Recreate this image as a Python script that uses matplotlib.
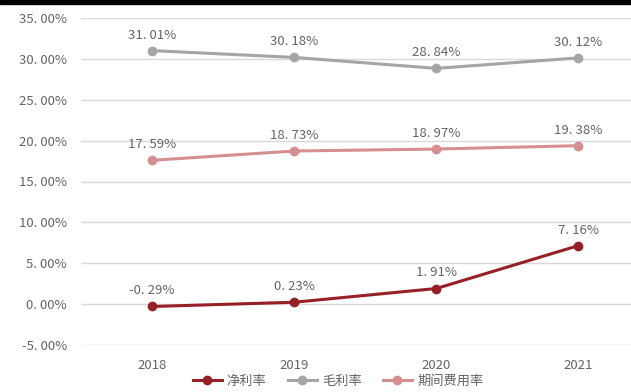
import matplotlib.pyplot as plt
from matplotlib.patches import Rectangle

plt.rcParams['font.family'] = ['Noto Sans CJK SC', 'DejaVu Sans']

years = ['2018', '2019', '2020', '2021']
net_margin = [-0.29, 0.23, 1.91, 7.16]
gross_margin = [31.01, 30.18, 28.84, 30.12]
expense_ratio = [17.59, 18.73, 18.97, 19.38]

series = [
    ('净利率', net_margin, '#962025'),
    ('毛利率', gross_margin, '#a5a5a5'),
    ('期间费用率', expense_ratio, '#d58f90'),
]

fig = plt.figure(figsize=(6.31, 3.92), dpi=100)
ax = fig.add_axes([81 / 631, 1 - 345 / 392, 1 - 81 / 631, 327 / 392])
x = range(len(years))

for name, vals, color in series:
    ax.plot(x, vals, color=color, lw=2.2, marker='o', ms=6, label=name, zorder=3)
    for xi, v in zip(x, vals):
        ax.annotate(f'{v:.2f}%'.replace('.', '. '), (xi, v), xytext=(0, 6.5),
                    textcoords='offset points', ha='center', va='bottom',
                    fontsize=9.5, color='#646464')

ax.set_ylim(-5, 35)
ax.set_xlim(-0.5, 3.37)
ax.set_yticks(range(-5, 40, 5))
ax.set_yticklabels([f'{t:.2f}%'.replace('.', '. ') for t in range(-5, 40, 5)])
ax.set_xticks(list(x))
ax.set_xticklabels(years)
ax.tick_params(length=0, labelsize=9.5, colors='#646464', pad=10)
ax.grid(axis='y', color='#d9d9d9', lw=1)
ax.set_axisbelow(True)
for s in ax.spines.values():
    s.set_visible(False)

fig.legend(loc='center', bbox_to_anchor=(338 / 631, 1 - 381 / 392), ncol=3,
           frameon=False, fontsize=9.5, labelcolor='#646464',
           handlelength=2.2, columnspacing=1.6, handletextpad=0.4)

# black strip along the top edge
fig.add_artist(Rectangle((0, 1 - 4 / 392), 1, 4 / 392, transform=fig.transFigure,
                         color='black', zorder=10))

fig.savefig('out.png', dpi=100)
